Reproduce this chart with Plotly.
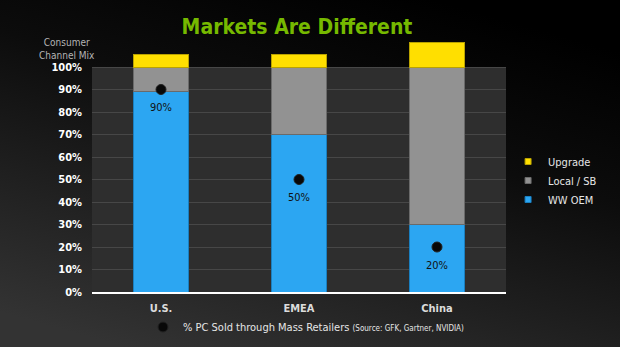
import base64
import plotly.graph_objects as go

# ---- data ----
markets = ["U.S.", "EMEA", "China"]
ww_oem = [89, 70, 30]
local_sb = [11, 30, 70]
upgrade = [5.5, 5.5, 11]
mass_retail = [90, 50, 20]
mass_retail_labels = ["90%", "50%", "20%"]
y_ticks = [0, 10, 20, 30, 40, 50, 60, 70, 80, 90, 100]
y_tick_labels = [f"{v}%" for v in y_ticks]

FONT = "DejaVu Sans Condensed"

# gradient background as an inline SVG image
svg = (
    "<svg xmlns='http://www.w3.org/2000/svg' width='620' height='347'>"
    "<defs><linearGradient id='g' x1='0.7' y1='0' x2='0.2' y2='1'>"
    "<stop offset='0' stop-color='#000000'/>"
    "<stop offset='0.35' stop-color='#0c0c0c'/>"
    "<stop offset='1' stop-color='#333333'/>"
    "</linearGradient></defs>"
    "<rect width='620' height='347' fill='url(#g)'/></svg>"
)
bg_src = "data:image/svg+xml;base64," + base64.b64encode(svg.encode()).decode()

fig = go.Figure()

fig.add_trace(go.Bar(x=markets, y=ww_oem, name="WW OEM", showlegend=False,
                     marker=dict(color="#2ca6f2", line=dict(color="#1a7fc0", width=1))))
fig.add_trace(go.Bar(x=markets, y=local_sb, name="Local / SB", showlegend=False,
                     marker=dict(color="#929292", line=dict(color="#6a6a6a", width=1))))
fig.add_trace(go.Bar(x=markets, y=upgrade, name="Upgrade", showlegend=False,
                     marker=dict(color="#ffdf00", line=dict(color="#b9a200", width=1))))

# legend swatches
for name, col, edge in [("WW OEM", "#2ca6f2", "#1a7fc0"),
                        ("Local / SB", "#929292", "#6a6a6a"),
                        ("Upgrade", "#ffdf00", "#b9a200")]:
    fig.add_trace(go.Scatter(x=[None], y=[None], mode="markers", name=name,
                             marker=dict(symbol="square", size=6, color=col,
                                         line=dict(color=edge, width=1)),
                             legend="legend"))

# value labels (placed under the dots via an invisible larger marker)
fig.add_trace(go.Scatter(
    x=markets, y=mass_retail, mode="markers+text", text=mass_retail_labels,
    textposition="bottom center", showlegend=False, hoverinfo="skip",
    textfont=dict(family=FONT, size=11, color="#111111"),
    marker=dict(color="rgba(0,0,0,0)", size=20), cliponaxis=False))

fig.add_trace(go.Scatter(
    x=markets, y=mass_retail, mode="markers",
    marker=dict(color="#080808", size=10, line=dict(color="#222222", width=1)),
    name="% PC Sold through Mass Retailers <span style='font-size:8px'>(Source: GFK, Gartner, NVIDIA)</span>",
    legend="legend2", cliponaxis=False))

fig.update_layout(
    width=620, height=347,
    margin=dict(l=92, r=114, t=40, b=55, autoexpand=False),
    paper_bgcolor="#000000",
    plot_bgcolor="rgba(0,0,0,0)",
    barmode="stack", bargap=0.6,
    font=dict(family=FONT, color="#e0e0e0"),
    title=dict(text="Markets Are Different", xref="container", yref="container",
               x=297 / 620, xanchor="center", y=1 - 27 / 347, yanchor="middle",
               font=dict(family=FONT, size=21, color="#76b900", weight="bold")),
    images=[dict(source=bg_src, xref="paper", yref="paper",
                 x=-92 / 414, y=(292) / 252, sizex=620 / 414, sizey=347 / 252,
                 xanchor="left", yanchor="top", sizing="stretch", layer="below")],
    shapes=[dict(type="rect", xref="paper", yref="y", x0=0, x1=1, y0=0, y1=100,
                 fillcolor="#2e2e2e", line=dict(width=0), layer="below")],
    xaxis=dict(showgrid=False, showline=True, linecolor="#ffffff", linewidth=1.5,
               ticks="", tickfont=dict(family=FONT, size=11, color="#dcdcdc", weight="bold"),
               ticklabelstandoff=5, fixedrange=True),
    yaxis=dict(range=[0, 112], tickvals=y_ticks, ticktext=y_tick_labels,
               showgrid=True, gridcolor="#474747", gridwidth=1, zeroline=False,
               tickfont=dict(family=FONT, size=11, color="#ffffff", weight="bold"),
               ticks="", ticklabelstandoff=9),
    legend=dict(x=1.005, y=(292 - 147) / 252, xanchor="left", yanchor="top",
                traceorder="reversed", bgcolor="rgba(0,0,0,0)",
                font=dict(family=FONT, size=11, color="#e6e6e6"),
                itemwidth=30, tracegroupgap=0),
    legend2=dict(x=(143 - 92) / 414, y=-(327 - 292) / 252, xanchor="left", yanchor="middle",
                 orientation="h", bgcolor="rgba(0,0,0,0)",
                 font=dict(family=FONT, size=11, color="#e6e6e6")),
    annotations=[dict(text="Consumer<br>Channel Mix", xref="paper", yref="paper",
                      x=-25 / 414, y=(292 - 49) / 252, xanchor="center", yanchor="middle",
                      showarrow=False, font=dict(family=FONT, size=10, color="#b4b4b4"))],
)

fig.write_html("out.html")
